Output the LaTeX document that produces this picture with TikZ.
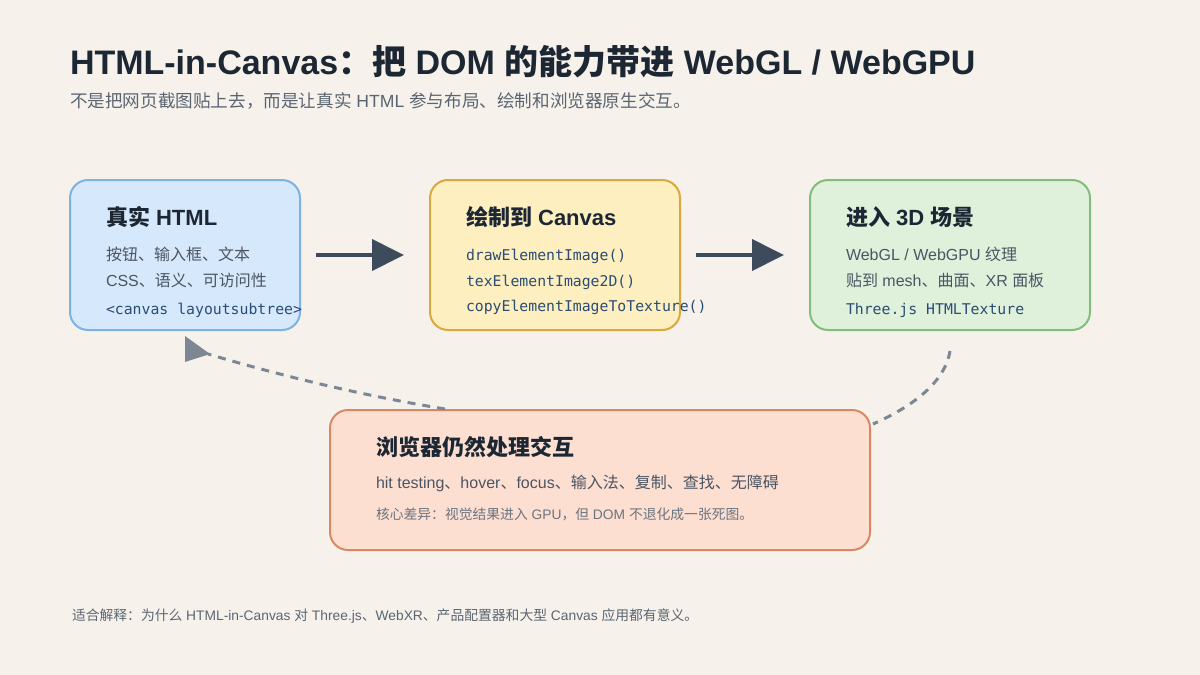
\documentclass[tikz,border=0pt]{standalone}
\usepackage{fontspec}
\setmainfont{Liberation Sans}
\setmonofont{DejaVu Sans Mono}
\newfontfamily\cjk{Noto Sans CJK SC}
\newcommand\zh[1]{{\cjk #1}}
\usetikzlibrary{arrows.meta,calc}
\definecolor{bg}{HTML}{F6F2EB}
\definecolor{titlec}{HTML}{1C2733}
\definecolor{subc}{HTML}{5B6572}
\definecolor{bodyc}{HTML}{4B5563}
\definecolor{monoc}{HTML}{2B4C73}
\definecolor{notec}{HTML}{6B7480}
\definecolor{arrowc}{HTML}{3D4B5C}
\definecolor{dashc}{HTML}{7C8793}
\definecolor{bluef}{HTML}{D6E9FC}
\definecolor{bluel}{HTML}{7DB2E5}
\definecolor{yelf}{HTML}{FDEFC0}
\definecolor{yell}{HTML}{D8A93C}
\definecolor{grnf}{HTML}{DFF1DB}
\definecolor{grnl}{HTML}{84BC7B}
\definecolor{orf}{HTML}{FDDFD2}
\definecolor{orl}{HTML}{D98863}
\begin{document}
\begin{tikzpicture}[x=1pt,y=-1pt,
  card/.style={draw, line width=2pt, rounded corners=18pt, inner sep=0pt},
  txt/.style={anchor=base west, inner sep=0pt, outer sep=0pt},
  cardtitle/.style={txt, text=titlec, font=\fontsize{22}{26}\selectfont\bfseries},
  body/.style={txt, text=bodyc, font=\fontsize{16}{20}\selectfont},
  code/.style={txt, text=monoc, font=\fontsize{14.8}{18}\selectfont\ttfamily},
  flow/.style={draw=arrowc, line width=4pt, -{Triangle[length=32pt,width=31pt]}},
  back/.style={draw=dashc, line width=3pt, dash pattern=on 8pt off 7pt}
]
\fill[bg] (0,0) rectangle (1200,675);
\useasboundingbox (0,0) rectangle (1200,675);

% title
\node[txt, text=titlec, font=\fontsize{34}{40}\selectfont\bfseries] (title) at (70,74.5)
  {HTML-in-Canvas\zh{：把} DOM \zh{的能力带进} WebGL / WebGPU};
\node[txt, text=subc, font=\fontsize{17.6}{20}\selectfont] (sub) at (70,107.5)
  {\zh{不是把网页截图贴上去，而是让真实} HTML \zh{参与布局、绘制和浏览器原生交互。}};

% cards
\node[card, fill=bluef, draw=bluel, minimum width=230pt, minimum height=150pt] (b1) at (185,255) {};
\node[card, fill=yelf, draw=yell, minimum width=250pt, minimum height=150pt] (b2) at (555,255) {};
\node[card, fill=grnf, draw=grnl, minimum width=280pt, minimum height=150pt] (b3) at (950,255) {};
\node[card, fill=orf, draw=orl, minimum width=540pt, minimum height=140pt] (b4) at (600,480) {};

% card 1
\node[cardtitle] (t1) at (106,225) {\zh{真实} HTML};
\node[body] (l11) at (106,260) {\zh{按钮、输入框、文本}};
\node[body] (l12) at (106,286) {CSS\zh{、语义、可访问性}};
\node[code] (l13) at (106,314) {<canvas layoutsubtree>};

% card 2
\node[cardtitle] (t2) at (466,225) {\zh{绘制到} Canvas};
\node[code] (l21) at (466,260) {drawElementImage()};
\node[code] (l22) at (466,286) {texElementImage2D()};
\node[code] (l23) at (466,311.5) {copyElementImageToTexture()};

% card 3
\node[cardtitle] (t3) at (846,225) {\zh{进入} 3D \zh{场景}};
\node[body] (l31) at (846,260) {WebGL / WebGPU \zh{纹理}};
\node[body] (l32) at (846,286) {\zh{贴到} mesh\zh{、曲面、}XR \zh{面板}};
\node[code] (l33) at (846,314) {Three.js HTMLTexture};

% card 4
\node[cardtitle] (t4) at (376,455) {\zh{浏览器仍然处理交互}};
\node[body] (l41) at (376,488) {hit testing\zh{、}hover\zh{、}focus\zh{、输入法、复制、查找、无障碍}};
\node[txt, text=notec, font=\fontsize{13.8}{18}\selectfont] (l42) at (376,519.5)
  {\zh{核心差异：视觉结果进入} GPU\zh{，但} DOM \zh{不退化成一张死图。}};

% footer
\node[txt, text=subc, font=\fontsize{13.8}{16}\selectfont] (foot) at (72,620)
  {\zh{适合解释：为什么} HTML-in-Canvas \zh{对} Three.js\zh{、}WebXR\zh{、产品配置器和大型} Canvas \zh{应用都有意义。}};

% flow arrows
\draw[flow] ([xshift=15pt]b1.east) -- ([xshift=-25pt]b2.west);
\draw[flow] ([xshift=15pt]b2.east) -- ([xshift=-25pt]b3.west);

% dashed feedback
\coordinate (tipL) at ($(b1.south)+(23,23)$);
\draw[back] ($(b4.north)+(-155,0)$) .. controls (360,395) and (282,376) .. (tipL);
\fill[dashc] ($(b1.south)+(0,5)$) -- ($(b1.south)+(0,31)$) -- ($(b1.south)+(25,23)$) -- cycle;
\draw[back] ($(b3.south)+(0,20)$) .. controls (945.7,378.3) and (919.7,403.3) .. ($(b4.north east)+(2,15)$);
\end{tikzpicture}
\end{document}
